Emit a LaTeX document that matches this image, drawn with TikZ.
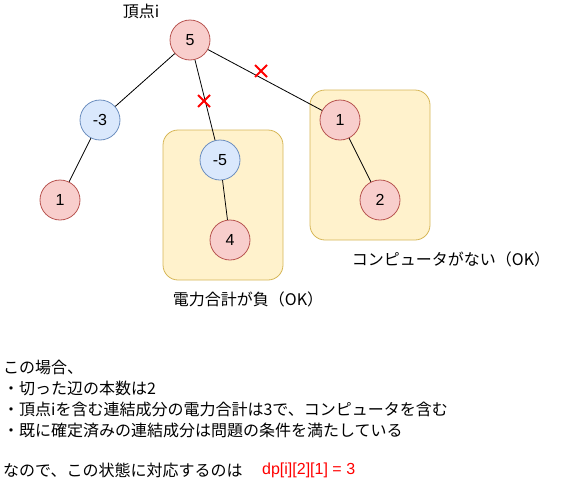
\documentclass[tikz,border=0pt]{standalone}
\usepackage{fontspec}
\setmainfont{Liberation Sans}
\newfontfamily\jp{Noto Sans CJK JP}
\usepackage{tikz}
\usetikzlibrary{shapes.misc,backgrounds}
\definecolor{posFill}{HTML}{F8CECC}
\definecolor{posLine}{HTML}{B85450}
\definecolor{negFill}{HTML}{DAE8FC}
\definecolor{negLine}{HTML}{6C8EBF}
\definecolor{grpFill}{HTML}{FFF2CC}
\definecolor{grpLine}{HTML}{D6B656}
\definecolor{ansRed}{HTML}{FF0000}
\tikzset{
  vpos/.style={draw=posLine,fill=posFill,circle,minimum size=40pt,inner sep=0pt,
               line width=0.8pt,font=\fontsize{16}{19}\selectfont},
  vneg/.style={draw=negLine,fill=negFill,circle,minimum size=40pt,inner sep=0pt,
               line width=0.8pt,font=\fontsize{16}{19}\selectfont},
  grp/.style={draw=grpLine,fill=grpFill,rounded corners=15pt,minimum width=120pt,
              minimum height=150pt,line width=0.8pt},
  cut/.style={cross out,draw=ansRed,line width=2pt,minimum size=10pt,inner sep=0pt},
  lbl/.style={font=\jp\fontsize{16}{19}\selectfont,inner sep=0pt},
  txt/.style={font=\jp\fontsize{16}{19}\selectfont,anchor=west,inner sep=0pt},
  edge/.style={draw,line width=0.8pt},
}

\begin{document}
\begin{tikzpicture}[x=1pt,y=-1pt]
  \useasboundingbox (0,0) rectangle (581,482);

  %% ── Tree vertices ───────────────────────────────────────────────────────
  \node[vpos] (root) at (190,40)  {5};
  \node[vneg] (na)   at (100,120) {-3};
  \node[vpos] (nb)   at (60,200)  {1};
  \node[vneg] (nc)   at (220,160) {-5};
  \node[vpos] (nd)   at (230,240) {4};
  \node[vpos] (ne)   at (340,120) {1};
  \node[vpos] (nf)   at (380,200) {2};

  %% ── Edges ───────────────────────────────────────────────────────────────
  \foreach \a/\b in {root/na,root/nc,root/ne,na/nb,nc/nd,ne/nf}{
    \draw[edge] (\a)--(\b);
  }

  %% ── Cut marks ───────────────────────────────────────────────────────────
  \node[cut] (cutc) at (204,101) {};
  \node[cut] (cute) at (261,71)  {};

  %% ── Separated components ────────────────────────────────────────────────
  \begin{scope}[on background layer]
    \node[grp] (grpneg) at (223,205) {};
    \node[grp] (grppc)  at (370,165) {};
  \end{scope}

  %% ── Labels ──────────────────────────────────────────────────────────────
  \node[lbl] (rootlbl) at (141,11)  {頂点i};
  \node[lbl] (neglbl)  at (248,299) {電力合計が負（OK）};
  \node[lbl] (pclbl)   at (451,259) {コンピュータがない（OK）};

  %% ── Explanation ─────────────────────────────────────────────────────────
  \node[txt] (t1) at (3,367) {この場合、};
  \node[txt] (t2) at (3,388) {・切った辺の本数は2};
  \node[txt] (t3) at (3,409) {・頂点iを含む連結成分の電力合計は3で、コンピュータを含む};
  \node[txt] (t4) at (3,430) {・既に確定済みの連結成分は問題の条件を満たしている};
  \node[txt] (t5) at (3,470) {なので、この状態に対応するのは};
  \node[txt,font=\fontsize{16}{19}\selectfont,text=ansRed] (ans) at (262,470) {dp[i][2][1] = 3};
\end{tikzpicture}
\end{document}
